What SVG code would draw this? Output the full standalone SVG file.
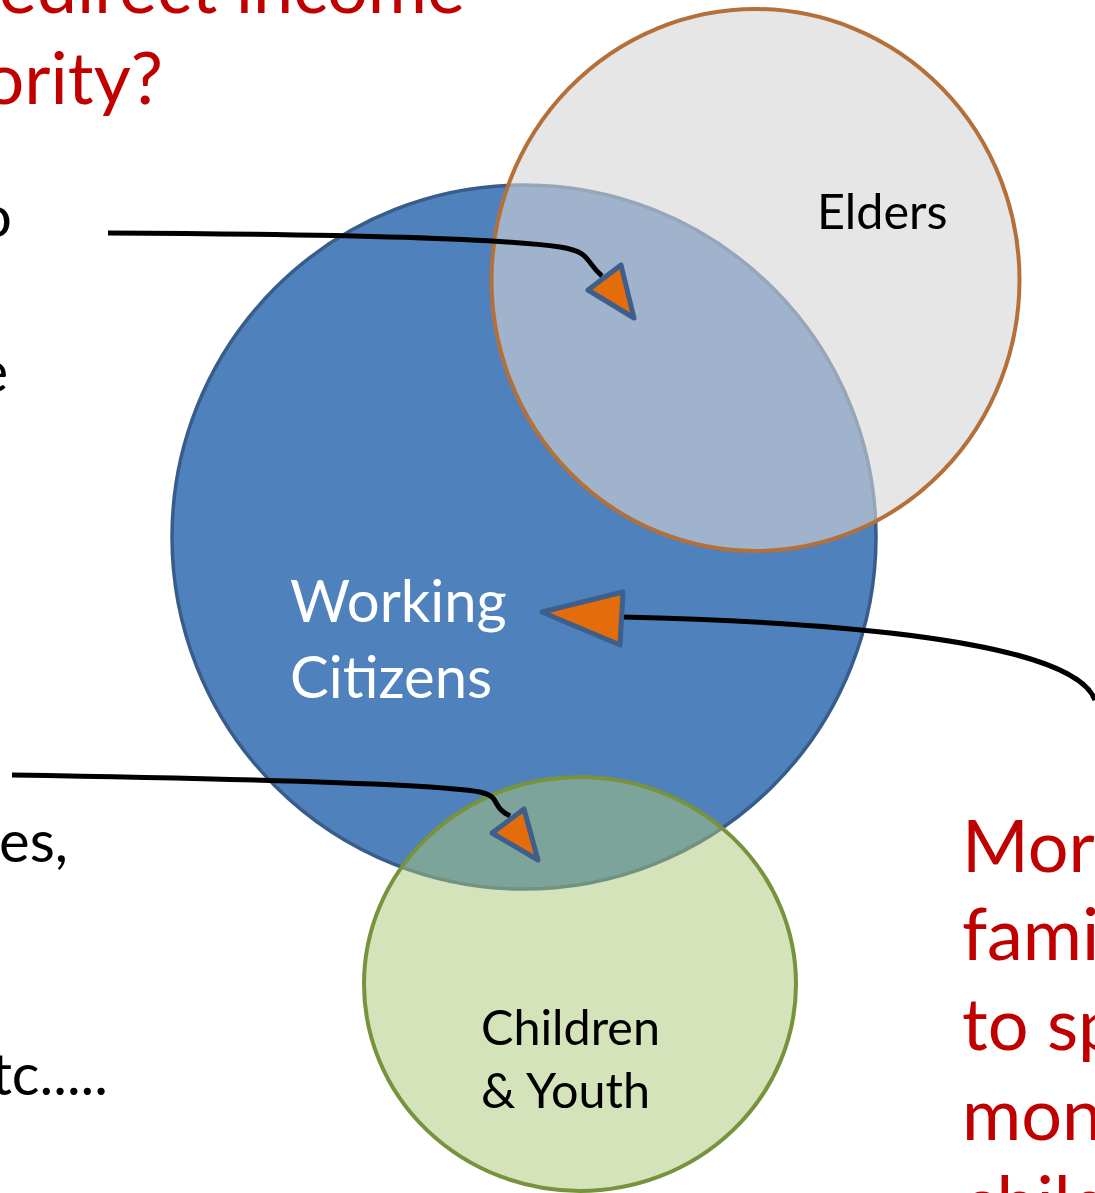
<svg xmlns="http://www.w3.org/2000/svg" width="1095" height="1193" viewBox="0 0 1095 1193">
  <style>
    .red { font-family: Lato, "Liberation Sans", sans-serif; font-size: 72px; fill: #C00000; }
    .side { font-family: Lato, "Liberation Sans", sans-serif; font-size: 58px; fill: #000000; }
    .label { font-family: Lato, "Liberation Sans", sans-serif; font-size: 48.5px; fill: #000000; }
    .big { font-family: Lato, "Liberation Sans", sans-serif; font-size: 58px; fill: #FFFFFF; }
    .wire { fill: none; stroke: #000000; stroke-width: 5; stroke-linecap: butt; }
    .head { fill: #E46C0A; stroke: #3C5F8C; stroke-width: 5; stroke-linejoin: round; }
  </style>
  <rect width="1095" height="1193" fill="#FFFFFF"/>

  <!-- surrounding slide text -->
  <g id="slide-text">
    <text class="red" x="465" y="13" text-anchor="end">edirect income</text>
    <text class="red" x="163" y="104" text-anchor="end">ority?</text>
    <text class="side" x="12" y="237" text-anchor="end">o</text>
    <text class="side" x="8" y="392" text-anchor="end">e</text>
    <text class="side" x="68" y="862" text-anchor="end">es,</text>
    <text class="side" x="108" y="1095" text-anchor="end">tc.....</text>
    <text class="red" x="962" y="872">More</text>
    <text class="red" x="962" y="960">fami</text>
    <text class="red" x="962" y="1050">to sp</text>
    <text class="red" x="962" y="1140">mon</text>
    <text class="red" x="962" y="1228">child</text>
  </g>

  <!-- working citizens -->
  <g id="working-citizens">
    <circle cx="524" cy="537" r="352" fill="#4F81BD" stroke="#385D8A" stroke-width="3.5"/>
    <text class="big" x="290" y="622">Working</text>
    <text class="big" x="290" y="698">Citizens</text>
  </g>

  <!-- elders -->
  <g id="elders">
    <ellipse cx="755.5" cy="280" rx="264" ry="271" fill="#D6D6D6" fill-opacity="0.6" stroke="#B5703A" stroke-width="4"/>
    <text class="label" x="817" y="229">Elders</text>
  </g>

  <!-- children and youth -->
  <g id="children-youth">
    <ellipse cx="580" cy="984" rx="216" ry="207" fill="#ACC877" fill-opacity="0.5" stroke="#77933C" stroke-width="4"/>
    <text class="label" x="481" y="1045">Children</text>
    <text class="label" x="481" y="1108">&amp; Youth</text>
  </g>

  <!-- connectors -->
  <g id="connectors">
    <path class="wire" d="M108,233 C300,234 500,238 560,247 C592,252 585,262 602,276"/>
    <polygon class="head" points="588,290 621,265 634,318"/>

    <path class="wire" d="M1095,700 C1080,660 960,625 622,617"/>
    <polygon class="head" points="542,612 623,592 620,645"/>

    <path class="wire" d="M12,775 C200,778 430,783 480,792 C502,797 490,806 510,816"/>
    <polygon class="head" points="492,833 524,809 538,860"/>
  </g>
</svg>
